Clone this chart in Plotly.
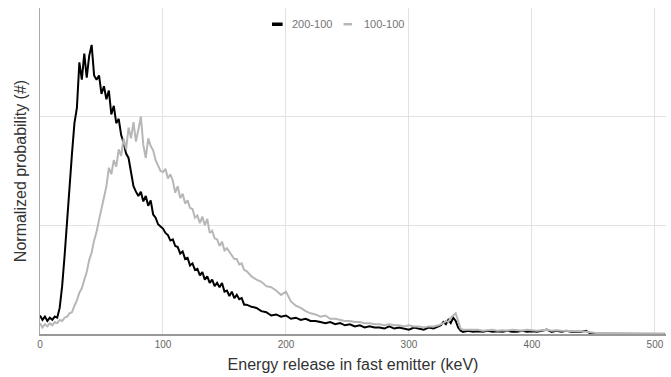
import plotly.graph_objects as go

# Energy bins (keV)
energy_kev = [
    0, 2, 4, 6, 8, 10, 12, 14, 16, 18, 20, 22, 24, 26, 28, 30, 32, 34, 36, 38,
    40, 42, 44, 46, 48, 50, 52, 54, 56, 58, 60, 62, 64, 66, 68, 70, 72, 74, 76, 78,
    80, 82, 84, 86, 88, 90, 92, 94, 96, 98, 100, 102, 104, 106, 108, 110, 112, 114, 116, 118,
    120, 122, 124, 126, 128, 130, 132, 134, 136, 138, 140, 142, 144, 146, 148, 150, 152, 154, 156, 158,
    160, 162, 164, 166,
    168, 172, 176, 180, 184, 188, 192, 196, 200, 204, 208, 212, 216, 220, 224, 228, 232, 236, 240, 244,
    248, 252, 256, 260, 264, 268, 272, 276, 280, 284, 288, 292, 296, 300, 304, 308, 312, 316, 320, 324,
    326, 328, 330, 332, 334, 336, 338, 340, 342, 344,
    348, 352, 356, 360, 364, 368, 372, 376, 380, 384, 388, 392, 396, 400, 404, 408, 412, 416, 420, 424,
    428, 432, 436, 440, 444,
    448,
    452, 460, 468, 476, 484, 492, 500, 508,
]

# Series "200-100" (black)
prob_200_100 = [
    0.17, 0.13, 0.16, 0.12, 0.15, 0.13, 0.16, 0.15, 0.24, 0.44, 0.72, 1.06, 1.42, 1.66, 1.94, 2.08, 2.50, 2.34, 2.58, 2.36,
    2.56, 2.66, 2.38, 2.34, 2.38, 2.21, 2.28, 2.16, 2.24, 2.02, 2.10, 1.94, 1.98, 1.83, 1.76, 1.66, 1.62, 1.50, 1.36, 1.31,
    1.27, 1.31, 1.22, 1.27, 1.18, 1.23, 1.10, 1.07, 1.01, 0.99, 0.97, 0.93, 0.91, 0.86, 0.87, 0.81, 0.80, 0.74, 0.76, 0.69,
    0.70, 0.63, 0.65, 0.59, 0.60, 0.54, 0.57, 0.50, 0.53, 0.47, 0.50, 0.44, 0.47, 0.43, 0.47, 0.39, 0.40, 0.35, 0.39, 0.33,
    0.36, 0.32, 0.33, 0.27,
    0.27, 0.25, 0.24, 0.21, 0.20, 0.17, 0.18, 0.16, 0.17, 0.14, 0.15, 0.13, 0.14, 0.12, 0.12, 0.11, 0.10, 0.11, 0.09, 0.10,
    0.08, 0.09, 0.07, 0.08, 0.06, 0.07, 0.06, 0.06, 0.05, 0.07, 0.05, 0.06, 0.05, 0.04, 0.06, 0.05, 0.04, 0.06, 0.05, 0.07,
    0.08, 0.11, 0.09, 0.13, 0.10, 0.15, 0.12, 0.06, 0.03, 0.02,
    0.03, 0.02, 0.025, 0.02, 0.03, 0.02, 0.025, 0.02, 0.03, 0.02, 0.02, 0.03, 0.02, 0.025, 0.02, 0.03, 0.04, 0.02, 0.03, 0.02,
    0.03, 0.02, 0.02, 0.02, 0.03,
    0.0,
    0.0, 0.0, 0.0, 0.0, 0.0, 0.0, 0.0, 0.0,
]

# Series "100-100" (grey)
prob_100_100 = [
    0.10, 0.06, 0.09, 0.07, 0.10, 0.08, 0.11, 0.10, 0.13, 0.12, 0.15, 0.16, 0.19, 0.20, 0.26, 0.31, 0.38, 0.42, 0.50, 0.57,
    0.68, 0.75, 0.86, 0.94, 1.05, 1.15, 1.24, 1.36, 1.53, 1.47, 1.60, 1.54, 1.70, 1.64, 1.80, 1.70, 1.90, 1.80, 1.95, 1.77,
    1.88, 2.00, 1.74, 1.62, 1.80, 1.73, 1.69, 1.60, 1.55, 1.50, 1.49, 1.52, 1.43, 1.47, 1.41, 1.30, 1.36, 1.25, 1.29, 1.20,
    1.23, 1.16, 1.15, 1.07, 1.09, 1.02, 1.08, 1.00, 1.06, 0.93, 0.95, 0.88, 0.87, 0.81, 0.85, 0.77, 0.79, 0.76, 0.73, 0.69,
    0.69, 0.64, 0.65, 0.59,
    0.58, 0.53, 0.50, 0.48, 0.44, 0.43, 0.40, 0.36, 0.39, 0.30, 0.26, 0.24, 0.21, 0.19, 0.18, 0.16, 0.17, 0.14, 0.14, 0.13,
    0.12, 0.12, 0.11, 0.11, 0.10, 0.10, 0.09, 0.09, 0.08, 0.09, 0.08, 0.08, 0.07, 0.08, 0.07, 0.07, 0.06, 0.07, 0.07, 0.08,
    0.09, 0.10, 0.12, 0.11, 0.15, 0.17, 0.19, 0.12, 0.05, 0.04,
    0.04, 0.035, 0.04, 0.03, 0.035, 0.04, 0.03, 0.035, 0.03, 0.04, 0.035, 0.03, 0.04, 0.035, 0.03, 0.035, 0.04, 0.03, 0.035, 0.03,
    0.03, 0.025, 0.03, 0.025, 0.02,
    0.015,
    0.01, 0.01, 0.01, 0.01, 0.01, 0.005, 0.005, 0.005,
]

series_names = ["200-100", "100-100"]
series_colors = ["#000000", "#b7b7b7"]
x_ticks = [0, 100, 200, 300, 400, 500]
y_grid = [1, 2, 3]

FONT = "Liberation Sans, Arial, sans-serif"

fig = go.Figure()
for name, vals, col in zip(series_names, [prob_200_100, prob_100_100], series_colors):
    fig.add_trace(go.Scatter(x=energy_kev, y=vals, mode="lines", name=name,
                             line=dict(color=col, width=2), showlegend=False))

# plot-area geometry (pixels)
W, H = 671, 377
ML, MR, MT, MB = 39.5, 5, 8, 43
PW, PH = W - ML - MR, H - MT - MB


def px(xp):
    return (xp - ML) / PW


def py(yp):
    return (H - MB - yp) / PH


fig.update_layout(
    width=W, height=H,
    margin=dict(l=ML, r=MR, t=MT, b=MB, pad=0),
    paper_bgcolor="white", plot_bgcolor="white",
    font=dict(family=FONT),
    xaxis=dict(range=[0, 509], tickvals=x_ticks, ticktext=[str(v) for v in x_ticks],
               showgrid=True, gridcolor="#e2e2e2", gridwidth=1,
               showline=True, linecolor="#999999", linewidth=2, zeroline=False,
               ticks="", tickfont=dict(size=10, color="#666666"),
               title=dict(text="Energy release in fast emitter (keV)",
                          font=dict(size=16, color="#333333"), standoff=10)),
    yaxis=dict(range=[0, 3], tickvals=y_grid, showticklabels=False,
               showgrid=True, gridcolor="#e2e2e2", gridwidth=1,
               showline=True, linecolor="#aaaaaa", linewidth=1, zeroline=False,
               ticks="",
               title=dict(text="Normalized probability (#)",
                          font=dict(size=16, color="#333333"), standoff=8)),
)

# legend (top centre)
legend_items = [
    (271.7, 282.3, 22.5, 26.0, 289.3),
    (343.3, 351.7, 23.0, 25.5, 361.7),
]
for (x0, x1, y0, y1, tx), name, col in zip(legend_items, series_names, series_colors):
    fig.add_shape(type="rect", xref="paper", yref="paper",
                  x0=px(x0), x1=px(x1), y0=py(y1), y1=py(y0),
                  fillcolor=col, line=dict(width=0))
    fig.add_annotation(xref="paper", yref="paper", x=px(tx), y=py(24.2),
                       xanchor="left", yanchor="middle", showarrow=False,
                       text=name, font=dict(size=11, color="#757575", family=FONT))

fig.write_html("out.html")
